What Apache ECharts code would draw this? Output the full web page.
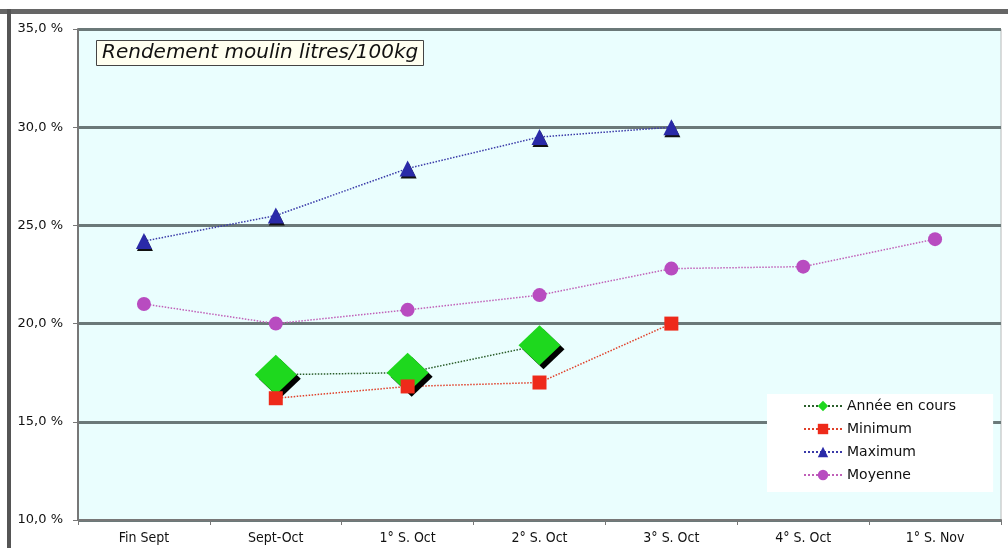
<!DOCTYPE html>
<html>
<head>
<meta charset="utf-8">
<script src="https://cdn.jsdelivr.net/npm/echarts@6/dist/echarts.min.js"></script>
<style>
  html, body { margin: 0; padding: 0; background: #fff; }
  #main { width: 1008px; height: 548px; }
</style>
</head>
<body>
<div id="main"></div>
<script>
var categories = ['Fin Sept', 'Sept-Oct', '1° S. Oct', '2° S. Oct', '3° S. Oct', '4° S. Oct', '1° S. Nov'];
var anneeEnCours = [null, 17.4, 17.5, 18.9, null, null, null];
var minimum = [null, 16.2, 16.8, 17.0, 20.0, null, null];
var maximum = [24.2, 25.5, 27.9, 29.5, 30.0, null, null];
var moyenne = [21.0, 20.0, 20.7, 21.45, 22.8, 22.9, 24.3];

var myChart = echarts.init(document.getElementById('main'));

var option = {
    animation: false,
    textStyle: { fontFamily: 'DejaVu Sans' },
    title: {
        text: 'Rendement moulin litres/100kg',
        left: 96,
        top: 40,
        padding: [3, 6, 3, 6],
        backgroundColor: '#fffff0',
        borderColor: '#444',
        borderWidth: 1,
        textStyle: {
            fontSize: 20,
            fontStyle: 'italic',
            fontWeight: 'normal',
            color: '#111',
            fontFamily: 'DejaVu Sans'
        }
    },
    graphic: [
        { type: 'rect', shape: { x: 0, y: 9, width: 1008, height: 5 }, style: { fill: '#666' }, silent: true },
        { type: 'rect', shape: { x: 7, y: 9, width: 4, height: 539 }, style: { fill: '#555' }, silent: true }
    ],
    legend: {
        orient: 'vertical',
        left: 767,
        top: 394,
        padding: [5, 37, 10, 36],
        backgroundColor: '#ffffff',
        itemWidth: 38,
        itemHeight: 13,
        itemGap: 9,
        textStyle: { fontSize: 14, color: '#111', fontFamily: 'DejaVu Sans' },
        data: ['Année en cours', 'Minimum', 'Maximum', 'Moyenne']
    },
    grid: {
        left: 78,
        right: 7,
        top: 29,
        bottom: 28,
        show: true,
        backgroundColor: '#eafefe',
        borderColor: '#b8b8b8',
        borderWidth: 1
    },
    xAxis: {
        type: 'category',
        data: categories,
        boundaryGap: true,
        axisLine: { lineStyle: { color: '#777', width: 2 } },
        axisTick: { show: true, length: 5, lineStyle: { color: '#777' } },
        axisLabel: { color: '#111', fontSize: 14, margin: 11, fontFamily: 'DejaVu Sans Condensed' }
    },
    yAxis: {
        type: 'value',
        min: 10,
        max: 35,
        interval: 5,
        axisLine: { show: true, lineStyle: { color: '#777', width: 2 } },
        axisTick: { show: true, length: 5, lineStyle: { color: '#777' } },
        axisLabel: {
            color: '#111',
            fontSize: 13,
            margin: 15,
            formatter: function (v) { return v.toFixed(1).replace('.', ',') + ' %'; }
        },
        splitLine: { show: true, lineStyle: { color: '#6b7979', width: 3 } }
    },
    series: [
        {
            name: 'Année en cours',
            type: 'line',
            data: anneeEnCours,
            symbol: 'diamond',
            symbolSize: [42, 40],
            lineStyle: { color: '#2b5e2b', type: 'dotted', width: 1.5 },
            itemStyle: {
                color: '#1ed81e',
                shadowColor: '#000',
                shadowOffsetX: 4,
                shadowOffsetY: 4,
                shadowBlur: 0
            }
        },
        {
            name: 'Minimum',
            type: 'line',
            data: minimum,
            symbol: 'rect',
            symbolSize: 14,
            lineStyle: { color: '#e0402a', type: 'dotted', width: 1.5 },
            itemStyle: { color: '#ee2a1a' }
        },
        {
            name: 'Maximum',
            type: 'line',
            data: maximum,
            symbol: 'triangle',
            symbolSize: 16,
            lineStyle: { color: '#3a3aa8', type: 'dotted', width: 1.5 },
            itemStyle: {
                color: '#2a2aa8',
                shadowColor: '#111',
                shadowOffsetX: 1,
                shadowOffsetY: 2,
                shadowBlur: 0
            }
        },
        {
            name: 'Moyenne',
            type: 'line',
            data: moyenne,
            symbol: 'circle',
            symbolSize: 14,
            lineStyle: { color: '#c060b8', type: 'dotted', width: 1.5 },
            itemStyle: { color: '#b84cc0' }
        }
    ]
};

myChart.setOption(option);
</script>
</body>
</html>
